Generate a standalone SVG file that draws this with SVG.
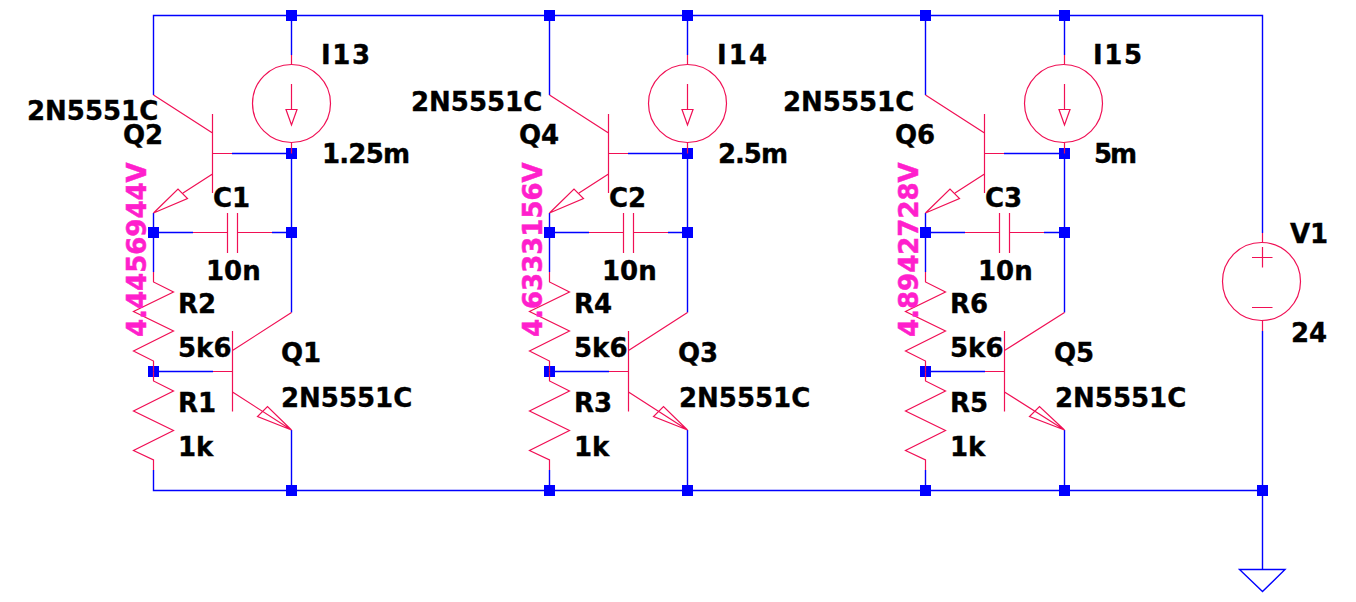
<svg xmlns="http://www.w3.org/2000/svg" xmlns:xlink="http://www.w3.org/1999/xlink" width="1356" height="602" viewBox="0 0 1356 602">
<style>
.w{fill:none;stroke:#0000ff;stroke-width:1.4}
.s{fill:none;stroke:#f01055;stroke-width:1.2}
text{font-family:"DejaVu Sans",sans-serif;font-weight:700;font-size:26px;fill:#000;stroke:#000;stroke-width:.35}
text.v{fill:#ff1fcc;stroke:#ff1fcc;stroke-width:.5}
.j{fill:#0000ff;stroke:none}
</style>
<defs>
<rect id="j" class="j" x="-5.5" y="-5.5" width="11" height="11"/>
<path id="npnU" class="s" d="M212.5 114V193M153.5 95L212.5 133M232 153.5H212.5M212.5 174L183 193M153.5 213L178 189L187.5 198.5Z"/>
<path id="npnL" class="s" d="M232.5 331V411.5M232.5 350.5L291.5 312.5M213 371.5H232.5M232.5 392L291.5 430L267.5 406.5L257.5 416.5L291.5 430"/>
<path id="cap" class="s" d="M193 232.5H227.5M227.5 213V253M237.5 213V253M237.5 232.5H272"/>
<path id="rUp" class="s" d="M153.5 272V282L173.5 292L133.5 311.5L173.5 331L133.5 351L153.5 361V371.5"/>
<path id="rLo" class="s" d="M153.5 371.5V381L173.5 391L133.5 411L173.5 430.5L133.5 450.5L153.5 460V470"/>
<g id="src" class="s"><circle cx="291.5" cy="103.5" r="39"/><path d="M291.5 55V64.5M291.5 142.5V153.5M291.5 84V109M286 109.5H297L291.5 125Z"/></g>
</defs>
<rect width="1356" height="602" fill="#fff"/>
<g id="connectors" class="w">
<path d="M153.5 95V15.5H1262.5V233M1262.5 331V569.5M153.5 470V490.5H1262.5"/>
<path d="M153.5 213V272M193 232.5H153.5M272 232.5H291.5M291.5 15.5V55M291.5 153V312.5M232 153.5H291.5M153.5 371.5H213M291.5 430V490.5"/>
<path d="M549.5 95V15.5M549.5 470V490.5M549.5 213V272M589 232.5H549.5M668 232.5H687.5M687.5 15.5V55M687.5 153V312.5M628 153.5H687.5M549.5 371.5H609M687.5 430V490.5"/>
<path d="M925.5 95V15.5M925.5 470V490.5M925.5 213V272M965 232.5H925.5M1044 232.5H1064.5M1064.5 15.5V55M1064.5 153V312.5M1004 153.5H1064.5M925.5 371.5H985M1064.5 430V490.5"/>
<g id="junctions">
<use xlink:href="#j" x="291.5" y="15.5"/><use xlink:href="#j" x="549.5" y="15.5"/><use xlink:href="#j" x="687.5" y="15.5"/><use xlink:href="#j" x="925.5" y="15.5"/><use xlink:href="#j" x="1064.5" y="15.5"/>
<use xlink:href="#j" x="291.5" y="153.5"/><use xlink:href="#j" x="687.5" y="153.5"/><use xlink:href="#j" x="1064.5" y="153.5"/>
<use xlink:href="#j" x="153.5" y="232.5"/><use xlink:href="#j" x="291.5" y="232.5"/><use xlink:href="#j" x="549.5" y="232.5"/><use xlink:href="#j" x="687.5" y="232.5"/><use xlink:href="#j" x="925.5" y="232.5"/><use xlink:href="#j" x="1064.5" y="232.5"/>
<use xlink:href="#j" x="153.5" y="371.5"/><use xlink:href="#j" x="549.5" y="371.5"/><use xlink:href="#j" x="925.5" y="371.5"/>
<use xlink:href="#j" x="291.5" y="490.5"/><use xlink:href="#j" x="549.5" y="490.5"/><use xlink:href="#j" x="687.5" y="490.5"/><use xlink:href="#j" x="925.5" y="490.5"/><use xlink:href="#j" x="1064.5" y="490.5"/><use xlink:href="#j" x="1262.5" y="490.5"/>
</g>
</g>
<g id="Q2"><use xlink:href="#npnU"/><text x="27" y="120">2N5551C</text><text x="123" y="144">Q2</text></g>
<g id="Q4"><use xlink:href="#npnU" x="396"/><text x="411" y="111">2N5551C</text><text x="519" y="144">Q4</text></g>
<g id="Q6"><use xlink:href="#npnU" x="772"/><text x="783" y="111">2N5551C</text><text x="895" y="144">Q6</text></g>
<g id="Q1"><use xlink:href="#npnL"/><text x="281" y="362">Q1</text><text x="281" y="407">2N5551C</text></g>
<g id="Q3"><use xlink:href="#npnL" x="396"/><text x="678" y="362">Q3</text><text x="679" y="407">2N5551C</text></g>
<g id="Q5"><path class="s" d="M1004.5 331V411.5M1004.5 350.5L1064.5 312.5M985 371.5H1004.5M1004.5 392L1064.5 430L1039.5 406.5L1029.5 416.5L1064.5 430"/><text x="1054" y="362">Q5</text><text x="1055" y="407">2N5551C</text></g>
<g id="I13"><use xlink:href="#src"/><text x="321" y="64" textLength="49">I13</text><text x="322" y="163" textLength="88">1.25m</text></g>
<g id="I14"><use xlink:href="#src" x="396"/><text x="717" y="64" textLength="50">I14</text><text x="718" y="163" textLength="70">2.5m</text></g>
<g id="I15"><g class="s"><circle cx="1063.5" cy="103.5" r="39"/><path d="M1064.5 55V64.5M1064.5 142.5V153.5M1064.5 84V109M1059 109.5H1070L1064.5 125Z"/></g><text x="1093" y="64" textLength="49">I15</text><text x="1094" y="163" textLength="43">5m</text></g>
<g id="C1"><use xlink:href="#cap"/><text x="213" y="207">C1</text><text x="206" y="280">10n</text></g>
<g id="C2"><use xlink:href="#cap" x="396"/><text x="609" y="207">C2</text><text x="602" y="280">10n</text></g>
<g id="C3"><use xlink:href="#cap" x="772"/><text x="985" y="207">C3</text><text x="978" y="280">10n</text></g>
<g id="R2"><use xlink:href="#rUp"/><text x="178" y="313">R2</text><text x="178" y="357">5k6</text></g>
<g id="R1"><use xlink:href="#rLo"/><text x="178" y="412">R1</text><text x="178" y="456">1k</text></g>
<g id="R4"><use xlink:href="#rUp" x="396"/><text x="574" y="313">R4</text><text x="574" y="357">5k6</text></g>
<g id="R3"><use xlink:href="#rLo" x="396"/><text x="574" y="412">R3</text><text x="574" y="456">1k</text></g>
<g id="R6"><use xlink:href="#rUp" x="772"/><text x="950" y="313">R6</text><text x="950" y="357">5k6</text></g>
<g id="R5"><use xlink:href="#rLo" x="772"/><text x="950" y="412">R5</text><text x="950" y="456">1k</text></g>
<g id="V1"><g class="s"><circle cx="1261.5" cy="281.5" r="39"/><path d="M1262.5 233V242.5M1262.5 320.5V331M1252 257.5H1272.5M1262.5 247V267.5M1252 307.5H1272.5"/></g><text x="1290" y="243">V1</text><text x="1291" y="342">24</text></g>
<g id="GND"><path class="w" d="M1239.5 569.5H1285L1262.5 591.5Z"/></g>
<g id="labels">
<text class="v" transform="translate(146 337) rotate(-90)">4.4456944V</text>
<text class="v" transform="translate(542 337) rotate(-90)">4.6333156V</text>
<text class="v" transform="translate(918 337) rotate(-90)">4.8942728V</text>
</g>
</svg>
